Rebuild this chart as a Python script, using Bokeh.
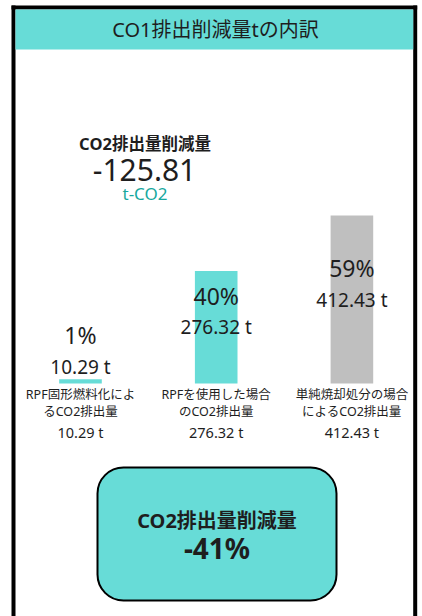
from bokeh.plotting import figure
from bokeh.models import Range1d, BoxAnnotation, ColumnDataSource
from bokeh.core.properties import value
from bokeh.embed import file_html
from bokeh.resources import INLINE

# ---- data ----
title = "CO1排出削減量tの内訳"
categories_line1 = ["RPF固形燃料化によ", "RPFを使用した場合", "単純焼却処分の場合"]
categories_line2 = ["るCO2排出量", "のCO2排出量", "によるCO2排出量"]
tonnes = [10.29, 276.32, 412.43]
bar_colors = ["#67DCD7", "#67DCD7", "#BFBFBF"]
reduction_label = "CO2排出量削減量"
reduction_value = -125.81
reduction_unit = "t-CO2"
reduction_pct = -41

FONT = "'Noto Sans', 'Noto Sans CJK JP', sans-serif"
TEAL = "#67DCD7"
TXT = "#1e1e1e"

W, H = 422, 616
p = figure(width=W, height=H, output_backend="svg", toolbar_location=None,
           x_range=Range1d(0, W), y_range=Range1d(H, 0), min_border=0)
p.axis.visible = False
p.grid.visible = False
p.outline_line_color = None
p.background_fill_color = "white"
p.border_fill_color = "white"

# data ranges for the bars: baseline 383px from top
px_per_t = 168.0 / 412.43
base = 383.0
p.extra_y_ranges = {"t": Range1d(-(H - base) / px_per_t, base / px_per_t)}
step = 135.7
x0 = 80.0
p.extra_x_ranges = {"c": Range1d(-x0 / step, (W - x0) / step)}

# frame & header
p.quad(left=[11, 412.7, 11], right=[15, 416.7, 416.7], top=[5, 5, 5], bottom=[H, H, 9],
       fill_color="black", line_color=None)
p.quad(left=[15], right=[412.7], top=[9], bottom=[49], fill_color=TEAL, line_color=None)
p.text(x=[215], y=[29], text=[title], text_font=value(FONT), text_font_size="20px",
       text_align="center", text_baseline="middle", text_color=TXT)

# summary block
p.text(x=[144.5], y=[143], text=[reduction_label], text_font=value(FONT), text_font_size="16.5px",
       text_font_style="bold", text_align="center", text_baseline="middle", text_color=TXT)
p.text(x=[144], y=[169], text=[f"{reduction_value:.2f}"], text_font=value(FONT), text_font_size="30px",
       text_align="center", text_baseline="middle", text_color=TXT)
p.text(x=[144.5], y=[193], text=[reduction_unit], text_font=value(FONT), text_font_size="17px",
       text_align="center", text_baseline="middle", text_color="#17A89E")

# bars
idx = list(range(len(tonnes)))
total = sum(tonnes)
pct = [f"{round(v / total * 100)}%" for v in tonnes]
val_txt = [f"{v:.2f} t" for v in tonnes]
min_lab = 41.7
val_y = [max(v / 2, min_lab) for v in tonnes]
pct_y = [y + 31.5 / px_per_t for y in val_y]
src = ColumnDataSource(dict(x=idx, top=tonnes, color=bar_colors, pct=pct, val=val_txt,
                            val_y=val_y, pct_y=pct_y))
p.vbar(x="x", top="top", bottom=0, width=0.314, fill_color="color", line_color=None,
       source=src, x_range_name="c", y_range_name="t")
p.text(x="x", y="pct_y", text="pct", source=src, x_range_name="c", y_range_name="t",
       text_font=value(FONT), text_font_size="23px", text_align="center",
       text_baseline="middle", text_color=TXT)
p.text(x="x", y="val_y", text="val", source=src, x_range_name="c", y_range_name="t",
       text_font=value(FONT), text_font_size="19px", text_align="center",
       text_baseline="middle", text_color=TXT)

# category labels (screen-row positions below the baseline)
cat_src = ColumnDataSource(dict(x=idx, l1=categories_line1, l2=categories_line2, val=val_txt,
                                y1=[394] * 3, y2=[411] * 3, y3=[431] * 3))
for col, yc, fs in (("l1", "y1", "12.5px"), ("l2", "y2", "12.5px"), ("val", "y3", "14.5px")):
    p.text(x="x", y=yc, text=col, source=cat_src, x_range_name="c",
           text_font=value(FONT), text_font_size=fs, text_align="center",
           text_baseline="middle", text_color=TXT)

# bottom rounded box
box = BoxAnnotation(left=97, right=336, top=467, bottom=600, fill_color=TEAL, fill_alpha=1.0,
                    line_color="black", line_alpha=1.0, line_width=2, border_radius=26,
                    level="underlay")
p.add_layout(box)
p.text(x=[216.5], y=[520], text=[reduction_label], text_font=value(FONT), text_font_size="20px",
       text_font_style="bold", text_align="center", text_baseline="middle", text_color=TXT)
p.text(x=[216.5], y=[547], text=[f"{reduction_pct}%"], text_font=value(FONT), text_font_size="28px",
       text_font_style="bold", text_align="center", text_baseline="middle", text_color=TXT)

open("out.html", "w").write(file_html(p, INLINE))
